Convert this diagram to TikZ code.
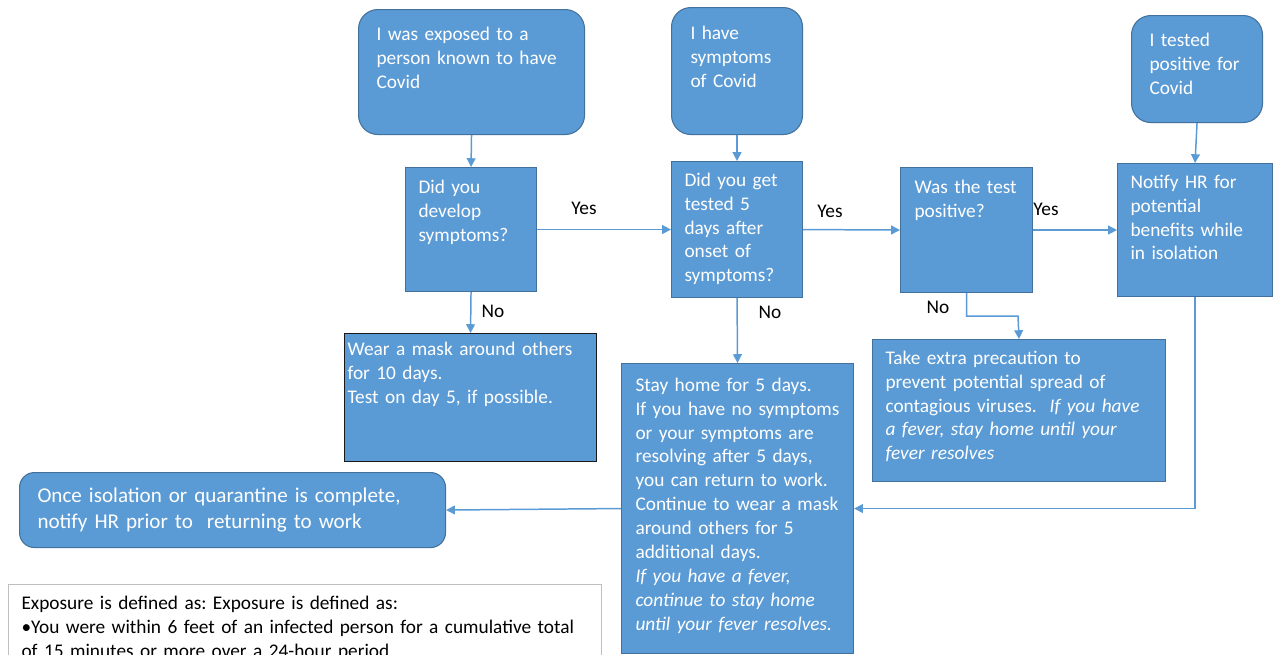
\documentclass[tikz,border=0pt]{standalone}
\usepackage{fontspec}
\setmainfont{Carlito}
\usetikzlibrary{arrows.meta}
\definecolor{office}{HTML}{5B9BD5}
\definecolor{rim}{HTML}{41719C}
\definecolor{wire}{HTML}{5B9BD5}
\newlength{\px}
\setlength{\px}{0.02cm}
\frenchspacing
\newcommand{\boxfont}{\fontsize{11}{13.6}\selectfont}
\newcommand{\bigfont}{\fontsize{12}{14.8}\selectfont}
% height, left pad, top pad, text
\newcommand{\inbox}[4]{\vbox to #1\px{\leftskip=#2\px\vskip#3\px\noindent\strut#4\par\vfil}}
\tikzset{
  blk/.style ={draw=rim,fill=office,text=white,line width=0.6pt,
               font=\boxfont,inner sep=0pt,anchor=north west,align=left},
  rnd/.style ={blk,rounded corners=11pt},
  note/.style={blk,draw=black!25,fill=white,text=black},
  ar/.style  ={draw=wire,line width=0.85pt,-{Triangle[length=5pt,width=5pt]}},
  lbl/.style ={font=\boxfont,inner sep=0pt},
}

\begin{document}
\begin{tikzpicture}[x=0.02cm,y=-0.02cm]
\useasboundingbox (0,0) rectangle (1278,654);
\clip (0,0) rectangle (1278,654);

% starting points
\node[rnd,text width=226\px] (exp) at (358,9) {\inbox{125}{18}{14}{I was exposed to a\\person known to have\\Covid}};
\node[rnd,text width=131\px] (sym) at (671,7) {\inbox{127}{19}{15}{I have\\symptoms\\of Covid}};
\node[rnd,text width=131\px] (tst) at (1131,15) {\inbox{107}{18}{14}{I tested\\positive for\\Covid}};

% questions
\node[blk,text width=131\px] (q1) at (405,167) {\inbox{124}{13}{9}{Did you\\develop\\symptoms?}};
\node[blk,text width=131\px] (q2) at (671,161) {\inbox{136}{13}{8}{Did you get\\tested 5\\days after\\onset of\\symptoms?}};
\node[blk,text width=132\px] (q3) at (900,167) {\inbox{125}{14}{9}{Was the test\\positive?}};
\node[blk,text width=155\px] (hr) at (1117,163) {\inbox{133}{13}{8}{Notify HR for\\potential\\benefits while\\in isolation}};

% outcomes
\node[blk,draw=black!90,text width=252\px] (mask) at (344,333) {\inbox{128}{3}{5}{Wear a mask around others\\for 10 days.\\Test on day 5, if possible.}};
\node[blk,text width=232\px] (stay) at (621,363) {\inbox{290}{14}{11}{Stay home for 5 days.\\If you have no symptoms\\or your symptoms are\\resolving after 5 days,\\you can return to work.\\Continue to wear a mask\\around others for 5\\additional days.\\\textit{If you have a fever,}\\\textit{continue to stay home}\\\textit{until your fever resolves.}}};
\node[blk,text width=293\px] (take) at (872,339) {\inbox{142}{13}{8}{Take extra precaution to\\prevent potential spread of\\contagious viruses.\ \ \textit{If you have}\\\textit{a fever, stay home until your}\\\textit{fever resolves}}};
\node[rnd,font=\bigfont,rounded corners=8.5pt,text width=426\px] (once) at (19,472) {\inbox{75}{18}{12}{Once isolation or quarantine is complete,\\notify HR prior to\ \ returning to work}};

\node[note,text width=593\px] (expo) at (8,584) {\inbox{100}{13}{8}{Exposure is defined as: Exposure is defined as:\\\textbullet You were within 6 feet of an infected person for a cumulative total\\of 15 minutes or more over a 24-hour period}};

% labels
\node[lbl] (yes1) at (584,208) {Yes};
\node[lbl] (yes2) at (830,211) {Yes};
\node[lbl] (yes3) at (1046,209) {Yes};
\node[lbl] (no1) at (493,311) {No};
\node[lbl] (no2) at (770,312) {No};
\node[lbl] (no3) at (938,307) {No};

\coordinate (kink) at (1018,316);

\draw[ar] (exp.south) -- (q1.north);
\draw[ar] (sym.south) -- (q2.north);
\draw[ar] (tst.south) -- (hr.north);
\draw[ar] (q1.east) -- (q2.west);
\draw[ar] (q2.east) -- (q3.west);
\draw[ar] (q3.east) -- (hr.west);
\draw[ar] (q1.south) -- (mask.north);
\draw[ar] (q2.south) -- (stay.north);
\draw[ar] (q3.south) |- (kink) -- (take.north);
\draw[ar] (hr.south) |- (stay.east);
\draw[ar] (stay.west) -- (once.east);
\end{tikzpicture}
\end{document}
